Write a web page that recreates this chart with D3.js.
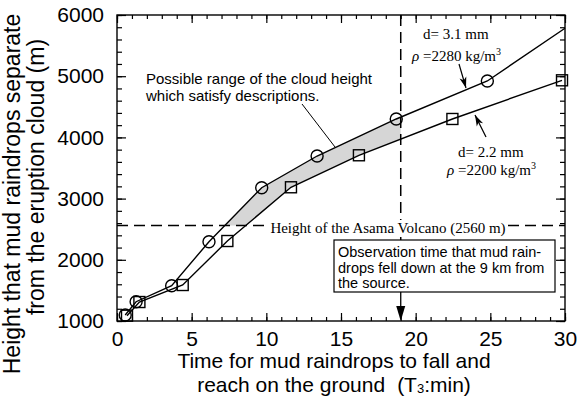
<!DOCTYPE html>
<html lang="en">
<head>
<meta charset="UTF-8">
<title>Mud raindrops</title>
<style>
  body { margin: 0; background: #fff; }
  svg { display: block; }
  .sans { font-family: "Liberation Sans", Arial, sans-serif; }
  .serif { font-family: "Liberation Serif", "Times New Roman", serif; }
</style>
</head>
<body>
<script src="https://d3js.org/d3.v7.min.js"></script>
<script>
    // data (T3 in min, height in m)
    let bigT = [0.55, 1.28, 3.66, 6.16, 9.69, 13.4, 18.7, 24.8];
    let bigH = [1098, 1315, 1577, 2296, 3178, 3696, 4301, 4922];
    let bigTailT = 30, bigTailH = 5783;   // line runs on to the frame, no marker there
    let smallT = [0.67, 1.5, 4.4, 7.39, 11.65, 16.2, 22.46, 29.8];
    let smallH = [1087, 1310, 1588, 2307, 3185, 3708, 4301, 4933];
    let volcanoH = 2560;
    let obsT = 19;
    let xTicks = [0, 5, 10, 15, 20, 25, 30];
    let yTicks = [1000, 2000, 3000, 4000, 5000, 6000];

    let width = 577, height = 400;
    let margin = {top: 15, right: 12, bottom: 79, left: 117};

    let svg = d3.select('body').append('svg')
        .attr('width', width)
        .attr('height', height);

    let x = d3.scaleLinear().domain([0, 30]).range([margin.left, width - margin.right]);
    let y = d3.scaleLinear().domain([1000, 6000]).range([height - margin.bottom, margin.top]);

    let bigPts = bigT.map((t, i) => [t, bigH[i]]);
    bigPts.push([bigTailT, bigTailH]);
    let smallPts = smallT.map((t, i) => [t, smallH[i]]);

    let line = d3.line().x(d => x(d[0])).y(d => y(d[1]));

    // shaded band between the curves, above the volcano and before the observation time
    svg.append('clipPath').attr('id', 'band')
        .append('rect')
        .attr('x', x(0))
        .attr('y', y(6000))
        .attr('width', x(obsT) - x(0))
        .attr('height', y(volcanoH) - y(6000));

    svg.append('path')
        .attr('clip-path', 'url(#band)')
        .attr('d', line(bigPts.concat(smallPts.slice().reverse())) + 'Z')
        .attr('fill', '#d6d6d6')
        .attr('stroke', 'none');

    // horizontal dashed line: volcano height
    svg.append('line')
        .attr('x1', x(0)).attr('x2', x(30))
        .attr('y1', y(volcanoH)).attr('y2', y(volcanoH))
        .attr('stroke', '#000').attr('stroke-width', 1.5)
        .attr('stroke-dasharray', '11,6');

    // vertical dashed line: observation time, down to the box
    svg.append('line')
        .attr('x1', x(obsT)).attr('x2', x(obsT))
        .attr('y1', y(6000)).attr('y2', 240)
        .attr('stroke', '#000').attr('stroke-width', 1.5)
        .attr('stroke-dasharray', '11,6');

    // the two curves
    svg.append('path')
        .attr('d', line(bigPts))
        .attr('fill', 'none').attr('stroke', '#000').attr('stroke-width', 1.4);
    svg.append('path')
        .attr('d', line(smallPts))
        .attr('fill', 'none').attr('stroke', '#000').attr('stroke-width', 1.4);

    svg.selectAll('circle.mk')
        .data(bigT.map((t, i) => [t, bigH[i]]))
        .enter().append('circle')
        .attr('class', 'mk')
        .attr('cx', d => x(d[0]))
        .attr('cy', d => y(d[1]))
        .attr('r', 6)
        .attr('fill', 'none').attr('stroke', '#000').attr('stroke-width', 1.4);

    svg.selectAll('rect.mk')
        .data(smallPts)
        .enter().append('rect')
        .attr('class', 'mk')
        .attr('x', d => x(d[0]) - 5.5)
        .attr('y', d => y(d[1]) - 5.5)
        .attr('width', 11).attr('height', 11)
        .attr('fill', 'none').attr('stroke', '#000').attr('stroke-width', 1.4);

    // volcano label with white background
    let volc = svg.append('text')
        .attr('class', 'serif')
        .attr('x', 388).attr('y', 233)
        .attr('text-anchor', 'middle')
        .attr('font-size', 15)
        .text('Height of the Asama Volcano (2560 m)');
    let vb = volc.node().getBBox();
    svg.insert('rect', 'text')
        .attr('x', vb.x - 2).attr('y', vb.y)
        .attr('width', vb.width + 4).attr('height', vb.height)
        .attr('fill', '#fff');

    // frame and ticks
    let plot = svg.append('g');
    plot.append('rect')
        .attr('x', x(0)).attr('y', y(6000))
        .attr('width', x(30) - x(0)).attr('height', y(1000) - y(6000))
        .attr('fill', 'none').attr('stroke', '#000').attr('stroke-width', 1.4);

    let minorX = d3.range(0, 31, 1), minorY = d3.range(1000, 6001, 200);
    function addAxis(gen, tr, vals, size, labels) {
        let g = plot.append('g').attr('transform', tr)
            .call(gen.tickValues(vals).tickSize(-size).tickPadding(10)
                .tickFormat(d3.format('d')));
        g.select('.domain').remove();
        g.selectAll('line').attr('stroke-width', 1.2);
        if (labels) {
            g.selectAll('text').attr('class', 'sans').attr('font-size', 21).attr('fill', '#000');
        } else {
            g.selectAll('text').remove();
        }
        return g;
    }
    addAxis(d3.axisBottom(x), `translate(0,${y(1000)})`, minorX, 4, false);
    addAxis(d3.axisBottom(x), `translate(0,${y(1000)})`, xTicks, 8, true);
    addAxis(d3.axisTop(x), `translate(0,${y(6000)})`, minorX, 4, false);
    addAxis(d3.axisTop(x), `translate(0,${y(6000)})`, xTicks, 8, false);
    addAxis(d3.axisLeft(y), `translate(${x(0)},0)`, minorY, 5, false);
    let ya = addAxis(d3.axisLeft(y), `translate(${x(0)},0)`, yTicks, 9, true);
    ya.selectAll('text').attr('dx', -3);
    addAxis(d3.axisRight(y), `translate(${x(30)},0)`, minorY, 5, false);
    addAxis(d3.axisRight(y), `translate(${x(30)},0)`, yTicks, 9, false);

    // observation box
    svg.append('rect')
        .attr('x', 334).attr('y', 240).attr('width', 221).attr('height', 52)
        .attr('fill', '#fff').attr('stroke', '#000').attr('stroke-width', 1.2);
    ['Observation time that mud rain-', 'drops fell down at the 9 km from', 'the source.']
        .forEach((s, i) => svg.append('text').attr('class', 'sans').attr('font-size', 14.5)
            .attr('x', 338).attr('y', 257 + i * 15.5).text(s));

    // arrow from box to the axis
    svg.append('line')
        .attr('x1', x(obsT)).attr('x2', x(obsT))
        .attr('y1', 292).attr('y2', y(1000) - 10)
        .attr('stroke', '#000').attr('stroke-width', 1.3);
    svg.append('path')
        .attr('d', `M${x(obsT)},${y(1000)} l-4.5,-15 l9,0 Z`)
        .attr('fill', '#000');

    // range annotation
    let rng = svg.append('text').attr('class', 'sans').attr('font-size', 15);
    ['Possible range of the cloud height', 'which satisfy descriptions.']
        .forEach((s, i) => rng.append('tspan').attr('x', 146).attr('y', 84 + i * 17).text(s));
    svg.append('line')
        .attr('x1', 302).attr('y1', 104).attr('x2', 335).attr('y2', 147)
        .attr('stroke', '#000').attr('stroke-width', 1);

    // curve labels
    function curveLabel(x0, yd, x1, yr, d, rho) {
        let t = svg.append('text').attr('class', 'serif').attr('font-size', 15);
        t.append('tspan').attr('x', x0).attr('y', yd).text(d);
        let r = t.append('tspan').attr('x', x1).attr('y', yr);
        r.append('tspan').attr('font-style', 'italic').text('\u03c1');
        r.append('tspan').text(' =' + rho + ' kg/m');
        r.append('tspan').attr('font-size', 10).attr('dy', -6).text('3');
    }
    function arrow(xa, ya, xb, yb) {
        svg.append('line')
            .attr('x1', xa).attr('y1', ya).attr('x2', xb).attr('y2', yb)
            .attr('stroke', '#000').attr('stroke-width', 1.2);
        let ang = Math.atan2(yb - ya, xb - xa) * 180 / Math.PI;
        svg.append('path')
            .attr('d', 'M0,0 L-11,-3.5 L-8,0 L-11,3.5 Z')
            .attr('transform', `translate(${xb},${yb}) rotate(${ang})`)
            .attr('fill', '#000');
    }
    curveLabel(423, 39, 412, 61, 'd= 3.1 mm', '2280');
    arrow(459, 64, 466, 88);
    curveLabel(458, 157, 447, 175, 'd= 2.2 mm', '2200');
    arrow(486, 137, 475, 115);

    // axis titles
    svg.append('text').attr('class', 'sans').attr('font-size', 21).attr('text-anchor', 'middle')
        .attr('x', 334).attr('y', 368).text('Time for mud raindrops to fall and');
    let xt2 = svg.append('text').attr('class', 'sans').attr('font-size', 21).attr('text-anchor', 'middle')
        .attr('x', 334).attr('y', 392);
    xt2.append('tspan').text('reach on the ground');
    xt2.append('tspan').attr('dx', 12).text('(T');
    xt2.append('tspan').attr('font-size', 13).attr('dy', 1).text('3');
    xt2.append('tspan').attr('dy', -1).text(':min)');

    svg.append('text').attr('class', 'sans').attr('font-size', 23)
        .attr('text-anchor', 'middle')
        .attr('transform', 'translate(20,194) rotate(-90)')
        .text('Height that mud raindrops separate');
    svg.append('text').attr('class', 'sans').attr('font-size', 23)
        .attr('text-anchor', 'middle')
        .attr('transform', 'translate(44,177) rotate(-90)')
        .text('from the eruption cloud (m)');
</script>
</body>
</html>
